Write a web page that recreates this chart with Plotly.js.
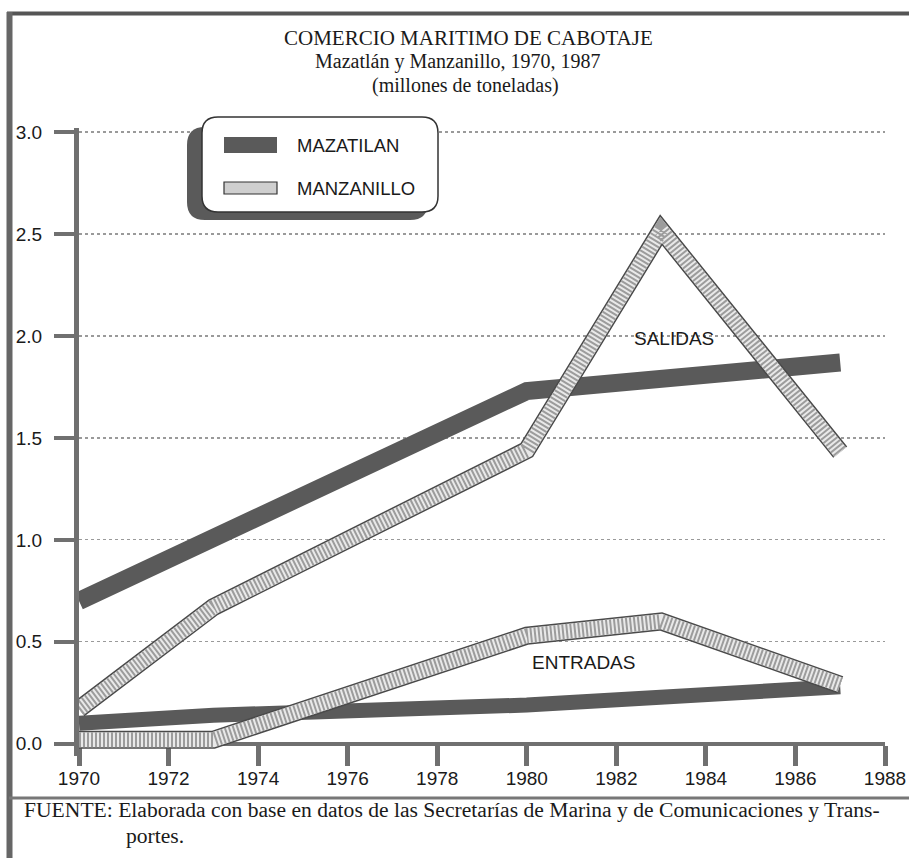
<!DOCTYPE html>
<html><head><meta charset="utf-8">
<script src="https://cdn.plot.ly/plotly-3.0.1.min.js"></script>
<style>html,body{margin:0;padding:0;background:#fff}#chart{width:909px;height:858px}</style>
</head><body><div id="chart"></div>
<script>
// ---- data (millones de toneladas) ----
const mazSalYears = [1970, 1980, 1987];
const mazSalidas  = [0.70, 1.73, 1.87];
const manSalYears = [1970, 1973, 1980, 1983, 1987];
const manSalidas  = [0.17, 0.67, 1.44, 2.52, 1.43];
const mazEntYears = [1970, 1973, 1980, 1987];
const mazEntradas = [0.10, 0.14, 0.19, 0.28];
const manEntYears = [1970, 1973, 1980, 1983, 1987];
const manEntradas = [0.02, 0.02, 0.53, 0.60, 0.29];
const xTickVals = [1970, 1972, 1974, 1976, 1978, 1980, 1982, 1984, 1986, 1988];
const yTickVals = [0, 0.5, 1, 1.5, 2, 2.5, 3];
const yTickText = ['0.0', '0.5', '1.0', '1.5', '2.0', '2.5', '3.0'];
const seriesNames = ['MAZATILAN', 'MANZANILLO'];
const groupLabels = ['SALIDAS', 'ENTRADAS'];
const titleLines = ['COMERCIO MARITIMO DE CABOTAJE', 'Mazatlán y Manzanillo, 1970, 1987', '(millones de toneladas)'];
const footLines = ['FUENTE: Elaborada con base en datos de las Secretarías de Marina y de Comunicaciones y Trans-', 'portes.'];

// ---- geometry ----
const W = 909, H = 858;
const M = {l: 79, r: 24, t: 128, b: 102};
const PW = W - M.l - M.r, PH = H - M.t - M.b;
const PX = px => (px - M.l) / PW;
const PY = py => (H - M.b - py) / PH;
const YR = [-0.06, 3.02];

const DARK = '#5a5a5a';
function solid(x, y, w) {
  return {x: x, y: y, mode: 'lines', line: {color: DARK, width: w}, hoverinfo: 'skip', showlegend: false};
}
function hatched(x, y) {
  return [
    {x: x, y: y, mode: 'lines', line: {color: '#4a4a4a', width: 18}, hoverinfo: 'skip', showlegend: false},
    {x: x, y: y, mode: 'lines', line: {color: '#e9e9e9', width: 15}, hoverinfo: 'skip', showlegend: false},
    {x: x, y: y, mode: 'lines', line: {color: '#9c9c9c', width: 15, dash: '2px,2px'}, hoverinfo: 'skip', showlegend: false}
  ];
}
const traces = [
  solid(mazSalYears, mazSalidas, 18),
  solid(mazEntYears, mazEntradas, 15),
  ...hatched(manSalYears, manSalidas),
  ...hatched(manEntYears, manEntradas)
];

function rrPath(x0, y0, x1, y1, r) {
  const p = (x, y) => PX(x).toFixed(5) + ',' + PY(y).toFixed(5);
  return 'M' + p(x0 + r, y0) + ' L' + p(x1 - r, y0) + ' Q' + p(x1, y0) + ' ' + p(x1, y0 + r) +
    ' L' + p(x1, y1 - r) + ' Q' + p(x1, y1) + ' ' + p(x1 - r, y1) +
    ' L' + p(x0 + r, y1) + ' Q' + p(x0, y1) + ' ' + p(x0, y1 - r) +
    ' L' + p(x0, y0 + r) + ' Q' + p(x0, y0) + ' ' + p(x0 + r, y0) + ' Z';
}
const shapes = [
  // frame
  {type: 'line', xref: 'paper', yref: 'paper', x0: PX(7), x1: PX(909), y0: PY(13.5), y1: PY(13.5), line: {color: '#555', width: 4}},
  {type: 'line', xref: 'paper', yref: 'paper', x0: PX(9.5), x1: PX(9.5), y0: PY(12), y1: PY(858), line: {color: '#666', width: 6}},
  {type: 'line', xref: 'paper', yref: 'paper', x0: PX(9), x1: PX(909), y0: PY(798), y1: PY(798), line: {color: '#777', width: 3}},
  // legend box
  {type: 'path', xref: 'paper', yref: 'paper', path: rrPath(187, 127, 428, 220, 18), fillcolor: DARK, line: {width: 0}},
  {type: 'path', xref: 'paper', yref: 'paper', path: rrPath(202, 117, 438, 212, 16), fillcolor: '#fff', line: {color: '#333', width: 1.5}},
  {type: 'rect', xref: 'paper', yref: 'paper', x0: PX(224), x1: PX(277), y0: PY(137), y1: PY(153), fillcolor: DARK, line: {width: 0}},
  {type: 'rect', xref: 'paper', yref: 'paper', x0: PX(224), x1: PX(277), y0: PY(182), y1: PY(194), fillcolor: '#cfcfcf', line: {color: '#333', width: 1.2}}
];

const serif = 'Liberation Serif, Times New Roman, serif';
const sans = 'Liberation Sans, Arial, sans-serif';
const ann = (text, px, py, size, fam, xanchor) => ({
  text: text, xref: 'paper', yref: 'paper', x: PX(px), y: PY(py), xanchor: xanchor || 'center', yanchor: 'middle',
  showarrow: false, font: {family: fam, size: size, color: '#1a1a1a'}
});
const annotations = [
  ann(titleLines[0], 468, 38, 21, serif),
  ann(titleLines[1], 458, 62, 20, serif),
  ann(titleLines[2], 465, 86, 20, serif),
  ann(seriesNames[0], 295, 145, 18.5, sans, 'left'),
  ann(seriesNames[1], 295, 188, 18.5, sans, 'left'),
  ann(groupLabels[0], 674, 338, 19, sans),
  ann(groupLabels[1], 583, 662, 19, sans),
  ann(footLines[0], 22, 810, 21.6, serif, 'left'),
  ann(footLines[1], 124, 836, 21.6, serif, 'left')
];

const layout = {
  width: W, height: H, margin: M, paper_bgcolor: '#fff', plot_bgcolor: '#fff', showlegend: false,
  xaxis: {
    range: [1970, 1988], tickvals: xTickVals, ticks: 'outside', ticklen: 20, tickwidth: 5, tickcolor: '#707070',
    showline: true, linecolor: '#707070', linewidth: 4, anchor: 'free', position: (0 - YR[0]) / (YR[1] - YR[0]),
    showgrid: false, zeroline: false, layer: 'below traces', ticklabelstandoff: -4,
    tickfont: {family: sans, size: 19, color: '#1a1a1a'}
  },
  yaxis: {
    range: YR, tickvals: yTickVals, ticktext: yTickText, ticks: 'outside', ticklen: 20, tickwidth: 4, tickcolor: '#707070',
    showline: true, linecolor: '#707070', linewidth: 5, showgrid: true, gridcolor: '#9a9a9a', griddash: 'dot', gridwidth: 1.2,
    zeroline: false, ticklabelstandoff: 8, tickfont: {family: sans, size: 19, color: '#1a1a1a'}
  },
  shapes: shapes, annotations: annotations
};
Plotly.newPlot('chart', traces, layout, {staticPlot: true, displayModeBar: false});
</script></body></html>
